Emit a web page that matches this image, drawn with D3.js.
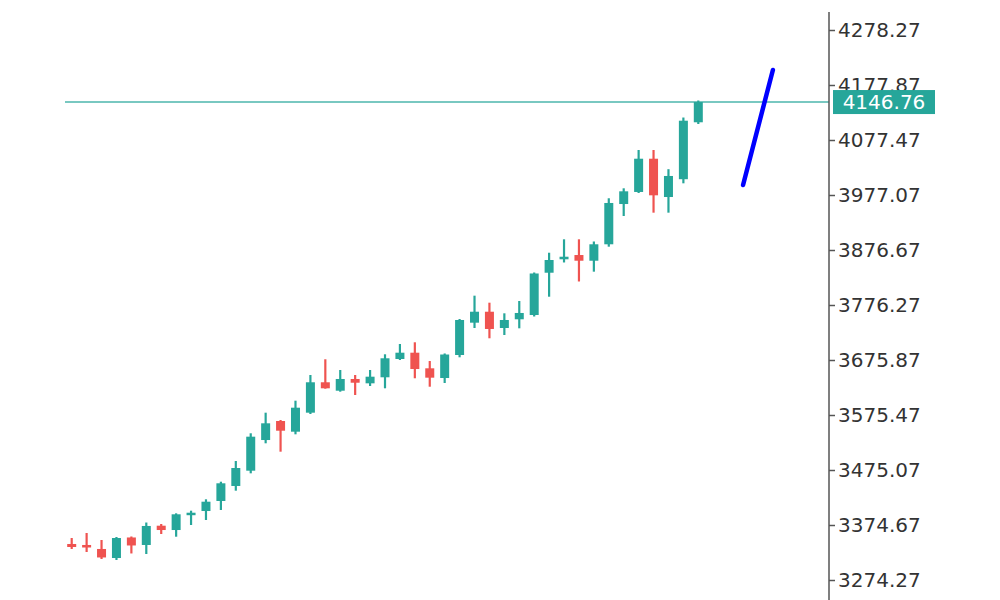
<!DOCTYPE html>
<html>
<head>
<meta charset="utf-8">
<script src="https://cdn.jsdelivr.net/npm/d3@7"></script>
<style>
  body { margin: 0; background: #fff; }
  .tick text { font-family: "DejaVu Sans", Verdana, sans-serif; font-size: 20px; fill: #333; }
</style>
</head>
<body>
<div id="chart"></div>
<script>
var width = 1000, height = 600;

// candle data
var opens  = [3340.0, 3338.2, 3330.9, 3314.4, 3351.9, 3338.2, 3373.4, 3365.5, 3392.9, 3400.2,
              3418.5, 3445.9, 3473.8, 3529.8, 3564.5, 3545.0, 3579.7, 3635.2, 3619.8, 3641.2,
              3633.3, 3644.3, 3677.7, 3689.2, 3660.7, 3643.0, 3685.0, 3744.0, 3764.0, 3734.3,
              3750.2, 3758.0, 3835.2, 3859.7, 3867.5, 3857.1, 3887.1, 3960.6, 3982.6, 4043.3,
              3973.4, 4005.9, 4109.8];
var highs  = [3350.9, 3360.1, 3347.3, 3352.8, 3353.7, 3379.2, 3376.5, 3396.0, 3400.8, 3421.6,
              3453.7, 3491.5, 3542.1, 3579.7, 3566.3, 3601.6, 3648.5, 3677.2, 3657.6, 3648.5,
              3657.6, 3686.3, 3705.1, 3708.2, 3674.0, 3687.8, 3750.7, 3793.3, 3780.5, 3761.1,
              3783.6, 3835.6, 3871.7, 3896.2, 3896.2, 3892.2, 3971.1, 3989.3, 4059.2, 4059.2,
              4024.2, 4118.5, 4149.6];
var lows   = [3330.9, 3325.4, 3312.6, 3310.8, 3322.7, 3321.7, 3358.2, 3353.3, 3374.7, 3383.8,
              3402.1, 3437.3, 3469.0, 3523.8, 3508.5, 3540.2, 3577.3, 3623.5, 3618.0, 3612.0,
              3628.4, 3624.2, 3675.9, 3642.5, 3627.1, 3633.9, 3680.8, 3734.3, 3715.5, 3721.5,
              3733.7, 3755.3, 3791.4, 3853.9, 3819.2, 3837.1, 3882.7, 3938.7, 3980.7, 3944.8,
              3944.8, 3998.4, 4106.7];
var closes = [3334.5, 3333.6, 3315.4, 3350.9, 3337.3, 3372.9, 3365.5, 3394.2, 3397.1, 3417.2,
              3450.8, 3478.7, 3535.9, 3560.3, 3546.8, 3588.8, 3635.2, 3624.2, 3641.2, 3634.4,
              3645.4, 3679.0, 3689.2, 3659.4, 3643.6, 3685.9, 3748.9, 3764.0, 3732.5, 3748.9,
              3761.7, 3833.8, 3858.4, 3864.4, 3857.1, 3887.1, 3962.5, 3983.8, 4043.3, 3976.5,
              4011.8, 4112.7, 4146.76];

var tickValues = [4278.27, 4177.87, 4077.47, 3977.07, 3876.67, 3776.27, 3675.87, 3575.47, 3475.07, 3374.67, 3274.27];
var lastPrice = 4146.76;

// drawn trend line (bar index, price)
var trendIdx = [45, 47];
var trendVal = [3995.3, 4205.3];

var upColor = "#26a69a", downColor = "#ef5350";

var candles = opens.map(function(o, i) {
  return {i: i, o: o, h: highs[i], l: lows[i], c: closes[i]};
});

var svg = d3.select('#chart').append('svg')
  .attr('width', width)
  .attr('height', height);

var x = d3.scaleLinear().domain([0, 42]).range([71.7, 698.3]);
var y = d3.scaleLinear().domain([3274.27, 4278.27]).range([580, 30]);

var axisX = 829;

// last price line
svg.append('line')
  .attr('x1', 65).attr('x2', axisX)
  .attr('y1', y(lastPrice)).attr('y2', y(lastPrice))
  .attr('stroke', '#4db6ac')
  .attr('stroke-width', 1.5);

var g = svg.append('g').attr('class', 'candles');

var candle = g.selectAll('g.candle')
  .data(candles)
  .enter().append('g')
  .attr('class', 'candle');

candle.append('line')
  .attr('x1', function(d) { return x(d.i); })
  .attr('x2', function(d) { return x(d.i); })
  .attr('y1', function(d) { return y(d.h); })
  .attr('y2', function(d) { return y(d.l); })
  .attr('stroke', function(d) { return d.c >= d.o ? upColor : downColor; })
  .attr('stroke-width', 2.2);

candle.append('rect')
  .attr('x', function(d) { return x(d.i) - 4.5; })
  .attr('width', 9)
  .attr('y', function(d) { return y(Math.max(d.o, d.c)); })
  .attr('height', function(d) { return Math.max(2.5, Math.abs(y(d.o) - y(d.c))); })
  .attr('fill', function(d) { return d.c >= d.o ? upColor : downColor; });

// blue trend line
svg.append('line')
  .attr('x1', x(trendIdx[0])).attr('y1', y(trendVal[0]))
  .attr('x2', x(trendIdx[1])).attr('y2', y(trendVal[1]))
  .attr('stroke', '#0000ff')
  .attr('stroke-width', 4.5)
  .attr('stroke-linecap', 'round');

// price axis
svg.append('line')
  .attr('x1', axisX).attr('x2', axisX)
  .attr('y1', 12).attr('y2', height)
  .attr('stroke', '#555')
  .attr('stroke-width', 1.5);

var yAxis = svg.append('g')
  .attr('transform', `translate(${axisX}, 0)`)
  .call(d3.axisRight(y).tickValues(tickValues).tickFormat(d3.format('.2f')).tickSize(6).tickPadding(3));
yAxis.select('.domain').remove();
yAxis.selectAll('.tick line').attr('stroke', '#555').attr('stroke-width', 1.5);

// last price label (sits over the 4177.87 tick label, as in the picture)
var lbl = svg.append('g').attr('transform', `translate(${axisX + 4}, ${y(lastPrice)})`);
lbl.append('rect')
  .attr('x', 0).attr('y', -12)
  .attr('width', 102).attr('height', 24)
  .attr('fill', upColor);
lbl.append('text')
  .attr('x', 51).attr('y', 0)
  .attr('dy', '0.36em')
  .attr('text-anchor', 'middle')
  .attr('fill', '#fff')
  .style('font-family', '"DejaVu Sans", Verdana, sans-serif')
  .style('font-size', '20px')
  .text(d3.format('.2f')(lastPrice));
</script>
</body>
</html>
